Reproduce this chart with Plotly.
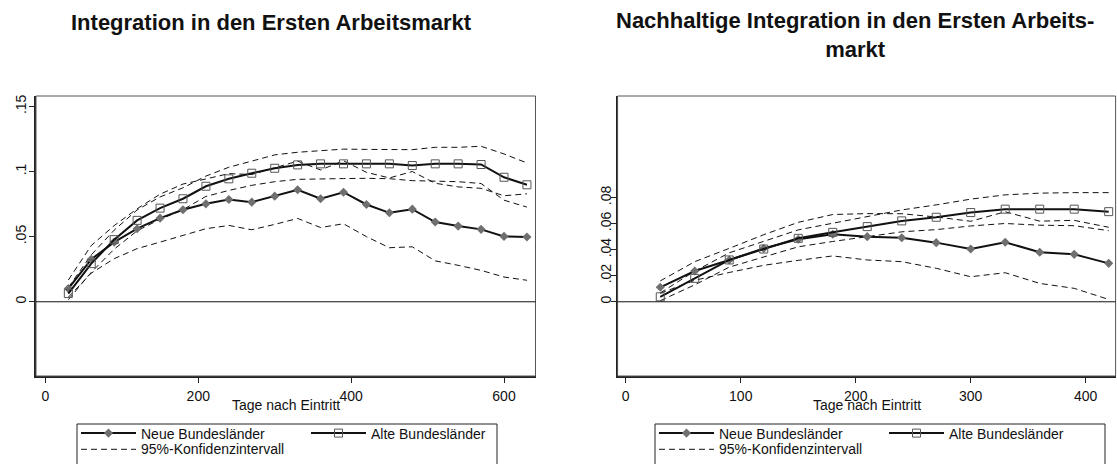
import plotly.graph_objects as go

W, H = 1117, 464

# Tage nach Eintritt (Messzeitpunkte)
days_left = [30, 60, 90, 120, 150, 180, 210, 240, 270, 300, 330, 360, 390,
             420, 450, 480, 510, 540, 570, 600, 630]
days_right = [30, 60, 90, 120, 150, 180, 210, 240, 270, 300, 330, 360, 390, 420]

# Integration in den Ersten Arbeitsmarkt
neue_left = [0.0101, 0.0326, 0.0458, 0.0561, 0.0642, 0.0707, 0.0752, 0.0785, 0.0765,
             0.0811, 0.0860, 0.0791, 0.0841, 0.0747, 0.0683, 0.0711, 0.0612, 0.0581,
             0.0556, 0.0502, 0.0497]
neue_left_lo = [0.0035, 0.0220, 0.0331, 0.0408, 0.0458, 0.0510, 0.0561, 0.0586, 0.0553,
                0.0594, 0.0640, 0.0570, 0.0599, 0.0500, 0.0415, 0.0422, 0.0314, 0.0280,
                0.0241, 0.0190, 0.0165]
neue_left_hi = [0.0167, 0.0432, 0.0585, 0.0714, 0.0826, 0.0904, 0.0943, 0.0984, 0.0977,
                0.1028, 0.1080, 0.1012, 0.1083, 0.0994, 0.0951, 0.1000, 0.0910, 0.0882,
                0.0871, 0.0814, 0.0829]
alte_left = [0.0063, 0.0293, 0.0477, 0.0625, 0.0719, 0.0791, 0.0887, 0.0944, 0.0987,
             0.1025, 0.1051, 0.1059, 0.1059, 0.1059, 0.1059, 0.1046, 0.1059, 0.1059,
             0.1054, 0.0956, 0.0898]
alte_left_hi = [0.0110, 0.0360, 0.0550, 0.0705, 0.0805, 0.0875, 0.0965, 0.1033, 0.1080,
                0.1128, 0.1148, 0.1161, 0.1172, 0.1170, 0.1170, 0.1168, 0.1186, 0.1186,
                0.1194, 0.1135, 0.1066]
alte_left_lo = [0.0016, 0.0226, 0.0404, 0.0545, 0.0633, 0.0707, 0.0809, 0.0855, 0.0894,
                0.0922, 0.0940, 0.0945, 0.0946, 0.0948, 0.0945, 0.0930, 0.0928, 0.0922,
                0.0908, 0.0780, 0.0727]

# Nachhaltige Integration in den Ersten Arbeitsmarkt
neue_right = [0.0111, 0.0236, 0.0321, 0.0410, 0.0480, 0.0518, 0.0500, 0.0492, 0.0454,
              0.0405, 0.0457, 0.0380, 0.0364, 0.0295]
neue_right_lo = [0.0065, 0.0165, 0.0225, 0.0280, 0.0318, 0.0352, 0.0321, 0.0308, 0.0257,
                 0.0192, 0.0223, 0.0141, 0.0103, 0.0018]
neue_right_hi = [0.0160, 0.0308, 0.0410, 0.0515, 0.0610, 0.0670, 0.0677, 0.0676, 0.0651,
                 0.0618, 0.0691, 0.0619, 0.0625, 0.0572]
alte_right = [0.0038, 0.0180, 0.0321, 0.0405, 0.0487, 0.0533, 0.0577, 0.0621, 0.0649,
              0.0685, 0.0711, 0.0711, 0.0711, 0.0692]
alte_right_hi = [0.0068, 0.0235, 0.0376, 0.0465, 0.0552, 0.0603, 0.0652, 0.0705, 0.0744,
                 0.0788, 0.0821, 0.0834, 0.0838, 0.0838]
alte_right_lo = [0.0008, 0.0130, 0.0266, 0.0345, 0.0422, 0.0463, 0.0502, 0.0537, 0.0554,
                 0.0582, 0.0601, 0.0588, 0.0584, 0.0546]

titles = ["Integration in den Ersten Arbeitsmarkt",
          "Nachhaltige Integration in den Ersten Arbeits-<br>markt"]
x_title = "Tage nach Eintritt"
left_yticks = [0, 0.05, 0.1, 0.15]
left_yticklabels = ["0", ".05", ".1", ".15"]
right_yticks = [0, 0.02, 0.04, 0.06, 0.08]
right_yticklabels = ["0", ".02", ".04", ".06", ".08"]
left_xticks = [0, 200, 400, 600]
right_xticks = [0, 100, 200, 300, 400]

FONT = "Liberation Sans, Arial, sans-serif"
INK = "#111111"
CI_DASH = "6px,4px"
# the CI legend row uses a small legend font (tighter row) but 14px label text
CI_NAME = "<span style='font-size:14px'>95%-Konfidenzintervall</span>"

fig = go.Figure()


def add_panel(xa, ya, leg_main, leg_ci, days, neue, neue_lo, neue_hi, alte, alte_lo, alte_hi):
    for i, band in enumerate([neue_lo, neue_hi, alte_lo, alte_hi]):
        fig.add_trace(go.Scatter(
            x=days, y=band, mode="lines", xaxis=xa, yaxis=ya, legend=leg_ci,
            line=dict(color=INK, width=1, dash=CI_DASH),
            name=CI_NAME, showlegend=(i == 0), hoverinfo="skip"))
    fig.add_trace(go.Scatter(
        x=days, y=neue, mode="lines+markers", xaxis=xa, yaxis=ya, legend=leg_main,
        line=dict(color=INK, width=2),
        marker=dict(symbol="diamond", size=7, color="#6f6f6f", line=dict(width=0)),
        name="Neue Bundesländer"))
    fig.add_trace(go.Scatter(
        x=days, y=alte, mode="lines+markers", xaxis=xa, yaxis=ya, legend=leg_main,
        line=dict(color=INK, width=2),
        marker=dict(symbol="square-open", size=8, color="#555555", line=dict(width=1)),
        name="Alte Bundesländer"))


add_panel("x", "y", "legend", "legend3", days_left, neue_left, neue_left_lo, neue_left_hi,
          alte_left, alte_left_lo, alte_left_hi)
add_panel("x2", "y2", "legend2", "legend4", days_right, neue_right, neue_right_lo,
          neue_right_hi, alte_right, alte_right_lo, alte_right_hi)

ydom = [(H - 376) / H, (H - 96) / H]
axis_common = dict(showgrid=False, zeroline=False, showline=True, linecolor="#222222",
                   linewidth=1.5, ticks="outside", ticklen=5, tickcolor="#222222",
                   tickfont=dict(family=FONT, size=14, color=INK), automargin=False)


def legend_box(x_px, top_px, size):
    return dict(x=x_px / W, y=(H - top_px) / H, xanchor="left", yanchor="top",
                orientation="h", itemwidth=55, entrywidth=160, borderwidth=0,
                bgcolor="rgba(0,0,0,0)", font=dict(family=FONT, size=size, color=INK))


# the lower legend row sits as low as it can without pushing the plot margins
LEG_ROW1_TOP = 417.5
LEG_ROW2_TOP = 434.8

fig.update_layout(
    width=W, height=H, margin=dict(l=0, r=0, t=0, b=0),
    paper_bgcolor="white", plot_bgcolor="white",
    font=dict(family=FONT, size=14, color=INK),
    xaxis=dict(domain=[36 / W, 535.5 / W], range=[-12.3, 641.2], tickvals=left_xticks,
               ticklabelstandoff=1, **axis_common),
    yaxis=dict(domain=ydom, range=[-0.057, 0.158], tickvals=left_yticks,
               ticktext=left_yticklabels, tickangle=-90, ticklabelstandoff=-2,
               **axis_common),
    xaxis2=dict(domain=[617.6 / W, 1115.6 / W], range=[-7.1, 426], tickvals=right_xticks,
                anchor="y2", ticklabelstandoff=1, **axis_common),
    yaxis2=dict(domain=ydom, range=[-0.057, 0.158], tickvals=right_yticks,
                ticktext=right_yticklabels, tickangle=-90, anchor="x2",
                ticklabelstandoff=-6, **axis_common),
    legend=legend_box(76, LEG_ROW1_TOP, 14),
    legend3=legend_box(76, LEG_ROW2_TOP, 12),
    legend2=legend_box(654, LEG_ROW1_TOP, 14),
    legend4=legend_box(654, LEG_ROW2_TOP, 12),
)

# plot region frames and the zero reference lines
for xa, ya in [("x", "y"), ("x2", "y2")]:
    fig.add_shape(type="rect", xref=xa + " domain", yref=ya + " domain",
                  x0=0, x1=1, y0=0, y1=1, line=dict(color="#555555", width=1))
    fig.add_shape(type="line", xref=xa + " domain", yref=ya, x0=0, x1=1, y0=0, y1=0,
                  line=dict(color=INK, width=1))

# legend frames (their lower edge runs past the bottom of the figure)
for x0, x1 in [(77, 497), (655, 1105)]:
    fig.add_shape(type="rect", xref="paper", yref="paper", x0=x0 / W, x1=x1 / W,
                  y0=(H - 424) / H, y1=-0.1, line=dict(color="#222222", width=1),
                  layer="below")

# panel titles and axis titles
fig.add_annotation(text="<b>" + titles[0] + "</b>", x=271 / W, y=1 - 22 / H,
                   xref="paper", yref="paper", xanchor="center", yanchor="middle",
                   showarrow=False, font=dict(family=FONT, size=22, color=INK))
fig.add_annotation(text="<b>" + titles[1] + "</b>", x=855 / W, y=1 - 35 / H,
                   xref="paper", yref="paper", xanchor="center", yanchor="middle",
                   showarrow=False, font=dict(family=FONT, size=22, color=INK))
for xa in ["x", "x2"]:
    fig.add_annotation(text=x_title, x=0.5, y=1 - 405 / H, xref=xa + " domain",
                       yref="paper", xanchor="center", yanchor="middle", showarrow=False,
                       font=dict(family=FONT, size=14, color=INK))

fig.write_html("out.html")
